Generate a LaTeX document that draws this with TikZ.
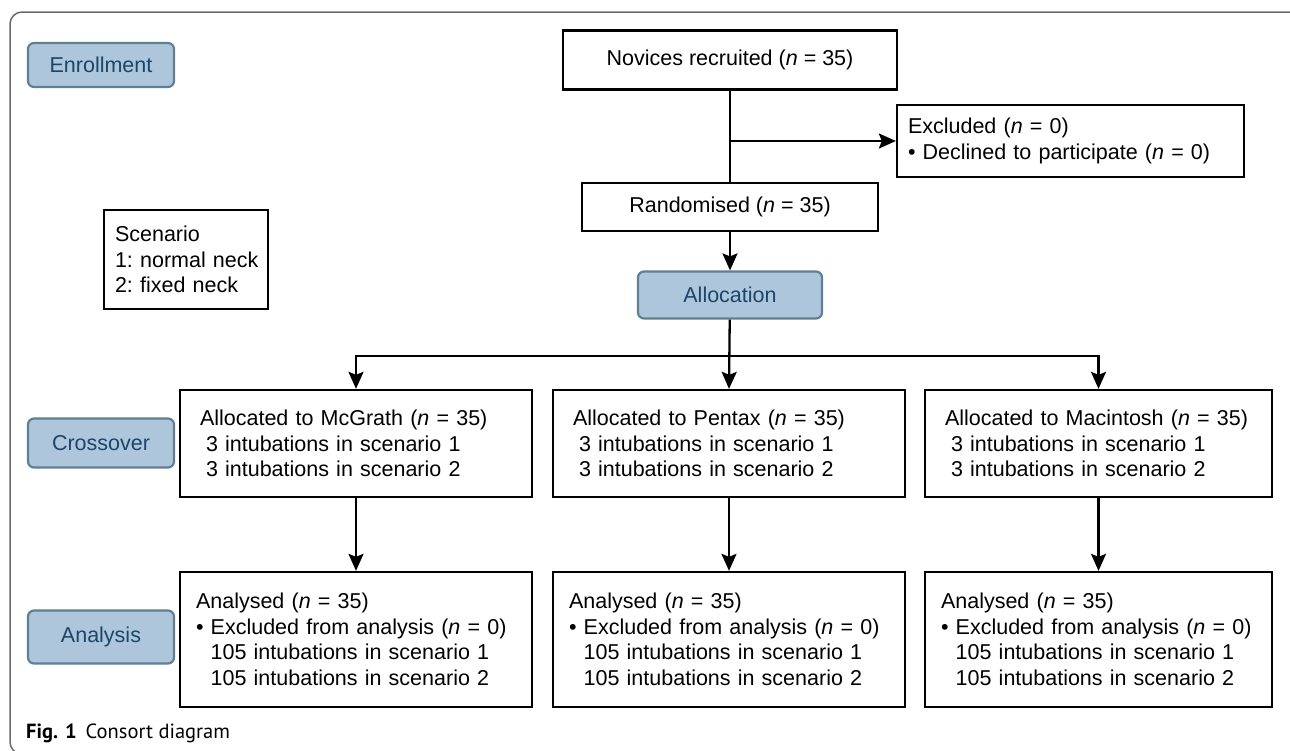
\documentclass[tikz,border=0pt]{standalone}
\usepackage{fontspec}
\setmainfont{Liberation Sans}
\newfontfamily\capfont{PT Sans}
\usetikzlibrary{arrows.meta}
\definecolor{lblfill}{HTML}{AEC6DC}
\definecolor{lbldraw}{HTML}{5F7F92}
\definecolor{lbltext}{HTML}{1C4568}
\definecolor{framecol}{HTML}{6A6A6A}
\newcommand\fsz{\fontsize{21.5}{25.5}\selectfont\frenchspacing}
\newcommand\Lin[1]{\mbox{#1}}
\tikzset{
  box/.style={draw=black, line width=2.3pt, fill=white, inner sep=0pt, font=\fsz},
  lbl/.style={draw=lbldraw, fill=lblfill, line width=2.2pt, rounded corners=6pt,
    text=lbltext, minimum width=146pt, minimum height=44pt, inner sep=0pt, font=\fsz},
  arr/.style={line width=2.3pt, -{Stealth[length=17pt,width=15pt,inset=3pt]}},
  lnk/.style={line width=2.3pt}
}
\begin{document}
\begin{tikzpicture}[x=1pt,y=-1pt]
\useasboundingbox (0,0) rectangle (1290,750);
\draw[framecol, line width=1.5pt, rounded corners=12pt] (10,12) rectangle (1302,754);

% stage labels
\node[lbl] (enr) at (101,65) {Enrollment};
\node[lbl, minimum width=184pt, minimum height=47pt] (alloc) at (730,295) {Allocation};
\node[lbl, minimum height=49pt] (cross) at (101,443) {Crossover};
\node[lbl, minimum height=53pt] (anal) at (101,637) {Analysis};

% top boxes
\node[box, minimum width=334pt, minimum height=59pt] (nov) at (730,60) {Novices recruited (\textit{n} = 35)};
\node[box, minimum height=72pt, align=left, inner xsep=11pt, text width=325pt] (excl) at (1070.5,141)
  {\Lin{Excluded (\textit{n} = 0)}\\\Lin{\textbullet\ Declined to participate (\textit{n} = 0)}};
\node[box, minimum width=296pt, minimum height=48pt] (rand) at (730,207) {Randomised (\textit{n} = 35)};
\node[box, minimum height=99pt, align=left, inner xsep=11pt, text width=142pt] (scen) at (186,259.5)
  {\Lin{Scenario}\\\Lin{1: normal neck}\\\Lin{2: fixed neck}};

% allocation boxes
\newcommand\altext[1]{\Lin{Allocated to #1 (\textit{n} = 35)}\\\Lin{\hspace*{6pt}3 intubations in scenario 1}\\\Lin{\hspace*{6pt}3 intubations in scenario 2}}
\tikzset{albox/.style={box, minimum height=107pt, align=left, inner xsep=20pt}}
\node[albox, text width=312pt] (mcg) at (356,443.5) {\altext{McGrath}};
\node[albox, text width=312pt] (pen) at (729,443.5) {\altext{Pentax}};
\node[albox, text width=307pt] (mac) at (1098.5,443.5) {\altext{Macintosh}};

% analysis boxes
\newcommand\analtext{\Lin{Analysed (\textit{n} = 35)}\\\Lin{\textbullet\ Excluded from analysis (\textit{n} = 0)}\\\Lin{\phantom{\textbullet\ }105 intubations in scenario 1}\\\Lin{\phantom{\textbullet\ }105 intubations in scenario 2}}
\tikzset{anbox/.style={box, minimum height=135pt, align=left, inner xsep=16pt}}
\node[anbox, text width=320pt] (an1) at (356,639.5) {\analtext};
\node[anbox, text width=320pt] (an2) at (729,639.5) {\analtext};
\node[anbox, text width=315pt] (an3) at (1098.5,639.5) {\analtext};

% connectors
\draw[lnk] (nov) -- (rand);
\coordinate (br) at (nov.south |- excl.west);
\draw[arr] (br) -- (excl.west);
\draw[arr] (rand) -- (alloc);
\draw[arr] (alloc) -- (pen.north);
\coordinate (split) at (alloc.south |- 0,356);
\draw[arr] (split) -| (mcg.north);
\draw[arr] (split) -| (mac.north);
\draw[arr] (mcg) -- (an1);
\draw[arr] (pen) -- (an2);
\draw[arr] (mac) -- (an3);

% caption
\node[anchor=west, inner sep=0pt, font=\capfont\fontsize{20.5}{24}\selectfont] (cap) at (26,733)
  {\textbf{Fig. 1}\hspace{9pt}Consort diagram};
\end{tikzpicture}
\end{document}
